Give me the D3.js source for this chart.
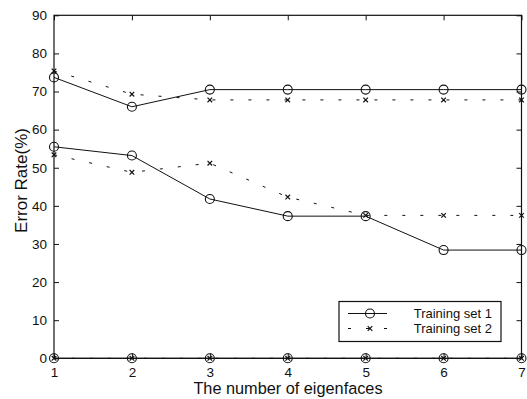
<!DOCTYPE html>
<html>
<head>
<meta charset="utf-8">
<script src="https://cdn.jsdelivr.net/npm/d3@7"></script>
<style>
  body { margin: 0; background: #fff; }
  text { font-family: "Liberation Sans", Arial, sans-serif; fill: #111; }
</style>
</head>
<body>
<svg id="chart" width="527" height="399"></svg>
<script>
// valeurs
const xVals = [1, 2, 3, 4, 5, 6, 7];
const yTicks = [0, 10, 20, 30, 40, 50, 60, 70, 80, 90];
const set1High = [73.7, 66, 70.5, 70.5, 70.5, 70.5, 70.5];
const set2High = [75.4, 69.3, 67.8, 67.8, 67.8, 67.8, 67.8];
const set1Mid  = [55.5, 53.2, 41.8, 37.3, 37.3, 28.4, 28.4];
const set2Mid  = [53.4, 48.8, 51.2, 42.3, 37.5, 37.5, 37.5];
const set1Low  = [0, 0, 0, 0, 0, 0, 0];
const set2Low  = [0, 0, 0, 0, 0, 0, 0];
const legendLabels = ['Training set 1', 'Training set 2'];

const svg = d3.select('#chart');
const L = 54, R = 521.5, T = 15.3, B = 358.3;

const x = d3.scaleLinear().domain([1, 7]).range([L, R]);
const y = d3.scaleLinear().domain([0, 90]).range([B, T]);

// cadre
svg.append('rect').attr('x', L).attr('y', T).attr('width', R - L).attr('height', B - T)
  .attr('fill', 'none').attr('stroke', '#111').attr('stroke-width', 1.2);

// graduations intérieures (style matlab) sur les quatre côtés
const tk = 5;
const axB = svg.append('g').attr('transform', `translate(0,${B})`)
  .call(d3.axisBottom(x).tickValues(xVals).tickFormat(d3.format('d')).tickSizeInner(-tk).tickSizeOuter(0).tickPadding(9));
const axT = svg.append('g').attr('transform', `translate(0,${T})`)
  .call(d3.axisTop(x).tickValues(xVals).tickFormat('').tickSizeInner(-tk).tickSizeOuter(0));
const axL = svg.append('g').attr('transform', `translate(${L},0)`)
  .call(d3.axisLeft(y).tickValues(yTicks).tickSizeInner(-tk).tickSizeOuter(0).tickPadding(7));
const axR = svg.append('g').attr('transform', `translate(${R},0)`)
  .call(d3.axisRight(y).tickValues(yTicks).tickFormat('').tickSizeInner(-tk).tickSizeOuter(0));
[axB, axT, axL, axR].forEach(a => {
  a.select('.domain').remove();
  a.selectAll('line').attr('stroke', '#111');
  a.selectAll('text').attr('font-size', 13.5).attr('fill', '#111')
    .attr('font-family', '"Liberation Sans", Arial, sans-serif');
});

const line = d3.line().x((d, i) => x(xVals[i])).y(d => y(d));

function drawSeries(vals, dashed, marker) {
  svg.append('path').datum(vals)
    .attr('d', line).attr('fill', 'none').attr('stroke', '#111').attr('stroke-width', 1)
    .attr('stroke-dasharray', dashed ? '3,15' : null);
  const g = svg.append('g');
  vals.forEach((v, i) => drawMarker(g, x(xVals[i]), y(v), marker));
}

function drawMarker(g, cx, cy, marker) {
  if (marker === 'o') {
    g.append('circle').attr('cx', cx).attr('cy', cy).attr('r', 4.5)
      .attr('fill', 'none').attr('stroke', '#111').attr('stroke-width', 1.1);
  } else {
    const s = 2.3;
    g.append('path').attr('d', `M${cx - s},${cy - s}L${cx + s},${cy + s}M${cx - s},${cy + s}L${cx + s},${cy - s}`)
      .attr('stroke', '#111').attr('stroke-width', 1.2);
  }
}

drawSeries(set2High, true, 'x');
drawSeries(set2Mid, true, 'x');
drawSeries(set2Low, true, 'x');
drawSeries(set1High, false, 'o');
drawSeries(set1Mid, false, 'o');
drawSeries(set1Low, false, 'o');

// titres des axes
svg.append('text').attr('x', 288).attr('y', 394).attr('text-anchor', 'middle')
  .attr('font-size', 16.3).text('The number of eigenfaces');
svg.append('text').attr('transform', 'translate(27,180.5) rotate(-90)')
  .attr('text-anchor', 'middle').attr('font-size', 17).text('Error Rate(%)');

// légende
const lg = svg.append('g');
lg.append('rect').attr('x', 339).attr('y', 301.5).attr('width', 162).attr('height', 40)
  .attr('fill', '#fff').attr('stroke', '#111').attr('stroke-width', 1.2);
[[313.5, false, 'o'], [328.5, true, 'x']].forEach(([ly, dashed, m], i) => {
  lg.append('line').attr('x1', 348).attr('x2', 387).attr('y1', ly).attr('y2', ly)
    .attr('stroke', '#111').attr('stroke-dasharray', dashed ? '3,15' : null);
  drawMarker(lg, 370, ly, m);
  lg.append('text').attr('x', 492).attr('y', ly + 4.5).attr('text-anchor', 'end')
    .attr('font-size', 13).text(legendLabels[i]);
});
</script>
</body>
</html>
